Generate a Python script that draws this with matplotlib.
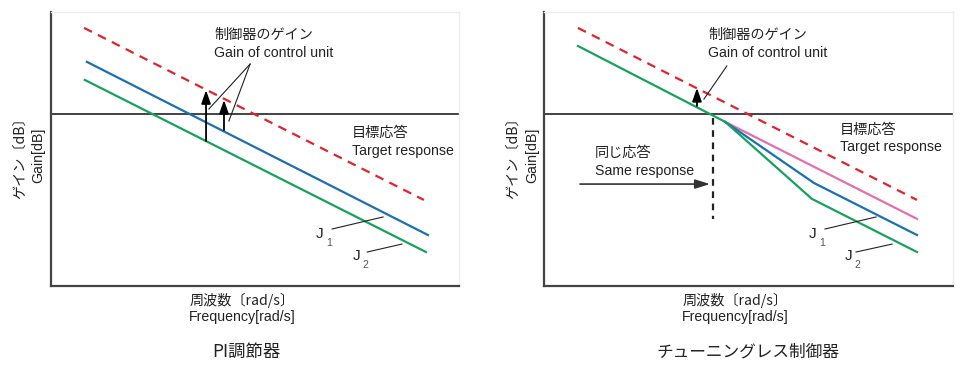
import matplotlib
matplotlib.use("Agg")
import matplotlib.pyplot as plt

# ---------------- data (arbitrary units: frequency 0-100, gain 0-100) -------------
# Left panel: PI controller
pi_target_x = [8.1, 91.4]
pi_target_y = [94.2, 31.4]
pi_j1_x = [8.8, 92.4]
pi_j1_y = [81.8, 18.6]
pi_j2_x = [8.3, 91.9]
pi_j2_y = [75.2, 12.4]
pi_zero_db = 62.8
pi_arrow1 = (38.0, 52.9, 71.5)   # x, from y, to y
pi_arrow2 = (42.4, 56.9, 67.9)

# Right panel: tuningless controller
tl_target_x = [8.3, 91.2]
tl_target_y = [94.2, 31.4]
tl_j2_x = [8.3, 44.3, 65.5, 91.2]
tl_j2_y = [87.6, 59.9, 31.8, 12.4]
tl_j1_x = [44.3, 66.0, 91.2]
tl_j1_y = [59.9, 37.6, 18.6]
tl_pink_x = [44.3, 91.2]
tl_pink_y = [59.9, 24.5]
tl_zero_db = 62.8
tl_same_x = 41.3
tl_same_y = (61.3, 24.5)
tl_same_arrow = (8.8, 40.6, 37.2)  # from x, to x, y
tl_arrow = (37.4, 65.7, 72.3)

# text labels
ylabel_jp = "ゲイン〔dB〕"
ylabel_en = "Gain[dB]"
xlabel_jp = "周波数〔rad/s〕"
xlabel_en = "Frequency[rad/s]"
gain_jp = "制御器のゲイン"
gain_en = "Gain of control unit"
target_jp = "目標応答"
target_en = "Target response"
same_jp = "同じ応答"
same_en = "Same response"
titles = ["PI調節器", "チューニングレス制御器"]

RED = "#e2232b"
BLUE = "#1c6fb5"
GREEN = "#16a25e"
PINK = "#e36fae"
DARK = "#222222"
JP = ["Noto Sans CJK JP", "DejaVu Sans"]
EN = ["Liberation Sans", "Noto Sans CJK JP"]
FS = 10.2

fig = plt.figure(figsize=(9.64, 3.67), dpi=100)
H = 367.0
W = 964.0

def make_ax(left_px, width_px):
    ax = fig.add_axes([left_px / W, (H - 286) / H, width_px / W, 274 / H])
    ax.set_xlim(0, 100)
    ax.set_ylim(0, 100)
    ax.set_xticks([])
    ax.set_yticks([])
    for s in ("left", "bottom"):
        ax.spines[s].set_color("#444444")
        ax.spines[s].set_linewidth(1.6)
    for s in ("top", "right"):
        ax.spines[s].set_color("#eeeeee")
        ax.spines[s].set_linewidth(1.0)
    return ax

def up_arrow(ax, x, y0, y1):
    ax.annotate("", xy=(x, y1), xytext=(x, y0),
                arrowprops=dict(arrowstyle="-|>,head_length=0.8,head_width=0.28",
                                color="black", lw=1.3, shrinkA=0, shrinkB=0))

def jlabel(ax, x, y, sub):
    ax.text(x, y, "J", fontsize=11, family=EN, color=DARK, ha="left", va="center")
    ax.text(x + 2.4, y - 3.3, sub, fontsize=7.5, family=EN, color="#555555", ha="left", va="center")

# ---------------- left panel ----------------
ax1 = make_ax(51, 408)
ax1.axhline(pi_zero_db, color=DARK, lw=1.2)
ax1.plot(pi_target_x, pi_target_y, color=RED, lw=1.6, ls=(0, (4, 3)))
ax1.plot(pi_j1_x, pi_j1_y, color=BLUE, lw=1.6)
ax1.plot(pi_j2_x, pi_j2_y, color=GREEN, lw=1.6)
up_arrow(ax1, pi_arrow1[0], pi_arrow1[1], pi_arrow1[2])
up_arrow(ax1, pi_arrow2[0], pi_arrow2[1], pi_arrow2[2])
ax1.plot([48.8, 38.7], [81.0, 64.6], color=DARK, lw=0.8)
ax1.plot([48.8, 43.6], [81.0, 60.2], color=DARK, lw=0.8)
ax1.text(40.0, 91.6, gain_jp, fontsize=FS, family=JP, color=DARK, va="center")
ax1.text(40.0, 85.0, gain_en, fontsize=FS, family=EN, color=DARK, va="center")
ax1.text(73.8, 55.8, target_jp, fontsize=FS, family=JP, color=DARK, va="center")
ax1.text(73.8, 49.3, target_en, fontsize=FS, family=EN, color=DARK, va="center")
jlabel(ax1, 65.0, 19.0, "1")
jlabel(ax1, 74.0, 10.9, "2")
ax1.plot([68.9, 81.4], [20.8, 25.2], color=DARK, lw=0.8)
ax1.plot([77.5, 86.0], [12.4, 15.3], color=DARK, lw=0.8)

# ---------------- right panel ----------------
ax2 = make_ax(544, 409)
ax2.axhline(tl_zero_db, color=DARK, lw=1.2)
ax2.plot(tl_target_x, tl_target_y, color=RED, lw=1.6, ls=(0, (4, 3)))
ax2.plot(tl_pink_x, tl_pink_y, color=PINK, lw=1.6)
ax2.plot(tl_j1_x, tl_j1_y, color=BLUE, lw=1.6)
ax2.plot(tl_j2_x, tl_j2_y, color=GREEN, lw=1.6)
ax2.plot([tl_same_x, tl_same_x], list(tl_same_y), color=DARK, lw=1.6, ls=(0, (3, 2.5)))
ax2.annotate("", xy=(tl_same_arrow[1], tl_same_arrow[2]), xytext=(tl_same_arrow[0], tl_same_arrow[2]),
             arrowprops=dict(arrowstyle="-|>,head_length=0.9,head_width=0.28",
                             color="#333333", lw=1.2, shrinkA=0, shrinkB=0))
up_arrow(ax2, tl_arrow[0], tl_arrow[1], tl_arrow[2])
ax2.plot([44.7, 39.1], [80.3, 68.2], color=DARK, lw=0.8)
ax2.text(40.1, 91.6, gain_jp, fontsize=FS, family=JP, color=DARK, va="center")
ax2.text(40.1, 85.0, gain_en, fontsize=FS, family=EN, color=DARK, va="center")
ax2.text(72.4, 56.9, target_jp, fontsize=FS, family=JP, color=DARK, va="center")
ax2.text(72.4, 50.7, target_en, fontsize=FS, family=EN, color=DARK, va="center")
ax2.text(12.5, 48.5, same_jp, fontsize=FS, family=JP, color=DARK, va="center")
ax2.text(12.5, 42.0, same_en, fontsize=FS, family=EN, color=DARK, va="center")
jlabel(ax2, 64.8, 19.0, "1")
jlabel(ax2, 73.6, 10.9, "2")
ax2.plot([68.7, 81.2], [20.8, 25.2], color=DARK, lw=0.8)
ax2.plot([76.3, 85.1], [12.4, 15.3], color=DARK, lw=0.8)

# ---------------- figure-level labels ----------------
for x_jp, x_en, x_xl, x_title, title, tfs in [(20, 38, 242, 246, titles[0], 12.5),
                                              (513, 532, 735, 748, titles[1], 12.0)]:
    fig.text(x_jp / W, 1 - 155 / H, ylabel_jp, rotation=90, fontsize=FS, family=JP,
             color=DARK, ha="center", va="center")
    fig.text(x_en / W, 1 - 155 / H, ylabel_en, rotation=90, fontsize=FS, family=EN,
             color=DARK, ha="center", va="center")
    fig.text(x_xl / W, 1 - 300 / H, xlabel_jp, fontsize=FS, family=JP, color=DARK,
             ha="center", va="center")
    fig.text(x_xl / W, 1 - 317 / H, xlabel_en, fontsize=FS, family=EN, color=DARK,
             ha="center", va="center")
    fig.text(x_title / W, 1 - 352 / H, title, fontsize=tfs, family=JP, color=DARK,
             ha="center", va="center")

fig.savefig("out.png", dpi=100, facecolor="white")
